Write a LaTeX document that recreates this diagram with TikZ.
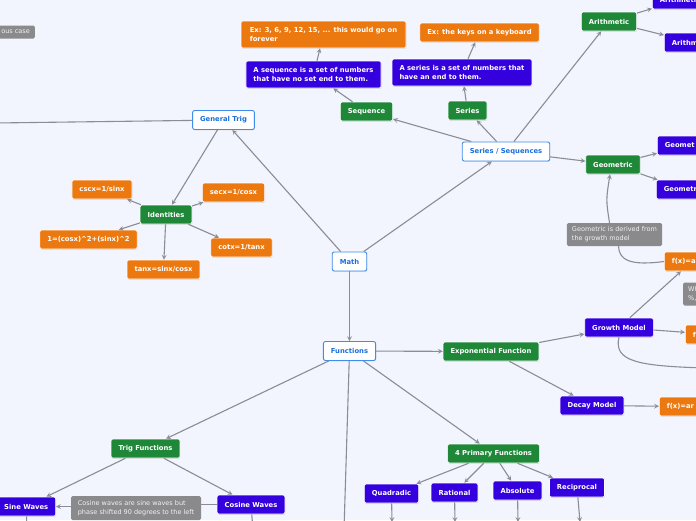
\documentclass[tikz,border=0pt]{standalone}
\usepackage{fontspec}
\setmainfont{DejaVu Sans}
\usetikzlibrary{shapes.geometric, arrows, calc, positioning, shadows}
\definecolor{mapbg}{RGB}{242,245,254}
\definecolor{rootblue}{RGB}{62,140,235}
\definecolor{roottext}{RGB}{25,110,220}
\definecolor{topicgreen}{RGB}{30,136,56}
\definecolor{subblue}{RGB}{52,0,222}
\definecolor{leaforange}{RGB}{236,120,16}
\definecolor{notegray}{RGB}{138,138,140}
\definecolor{linkgray}{RGB}{138,140,150}
\tikzstyle{box} = [rectangle, rounded corners=2pt, inner xsep=7.5pt, inner ysep=0pt, minimum height=19pt, align=left, font=\bfseries\fontsize{6.8}{8.8}\selectfont, drop shadow={shadow xshift=0.5pt, shadow yshift=-0.9pt, opacity=0.22}]
\tikzstyle{root} = [box, fill=white, draw=rootblue, line width=0.9pt, text=roottext]
\tikzstyle{topic} = [box, fill=topicgreen, draw=white, line width=0.6pt, text=white]
\tikzstyle{sub} = [box, fill=subblue, draw=white, line width=0.6pt, text=white]
\tikzstyle{leaf} = [box, fill=leaforange, draw=white, line width=0.6pt, text=white]
\tikzstyle{note} = [rectangle, rounded corners=1.5pt, fill=notegray, text=white!90!gray, inner xsep=5pt, inner ysep=2pt, minimum height=23pt, align=left, font=\fontsize{6.5}{8.8}\selectfont]
\tikzstyle{cutright} = [anchor=west, text width=45pt]
\tikzstyle{arrow} = [linkgray, line width=1.1pt, ->, >=stealth]
\tikzstyle{link} = [linkgray, line width=1.1pt]

\begin{document}
\begin{tikzpicture}[x=1pt, y=-1pt]
		\useasboundingbox (0,0) rectangle (696,520);
		\fill [mapbg] (0,0) rectangle (696,520);
		\clip (0,0) rectangle (696,520);

		\node (Math) [root] at (349.5,261.5) {Math};
		\node (GeneralTrig) [root] at (223.5,120) {General Trig};
		\node (SeriesSeq) [root] at (506,151.5) {Series / Sequences};
		\node (Functions) [root] at (349.5,351) {Functions};

		\node (Sequence) [topic] at (366.5,111.5) {Sequence};
		\node (SeqDef) [sub, minimum height=27pt] at (313.5,74.5) {A sequence is a set of numbers\\that have no set end to them.};
		\node (SeqEx) [leaf, minimum height=27pt, minimum width=165pt] at (323.5,34.5) {Ex: 3, 6, 9, 12, 15, ... this would go on\\forever};
		\node (Series) [topic] at (467.5,110.5) {Series};
		\node (SerDef) [sub, minimum height=27pt] at (462,72.5) {A series is a set of numbers that\\have an end to them.};
		\node (SerEx) [leaf] at (479.5,32.5) {Ex: the keys on a keyboard};

		\node (Arithmetic) [topic] at (609,21.5) {Arithmetic};
		\node (ArithA) [sub, cutright] at (652,-0.5) {Arithmetic};
		\node (ArithB) [sub, cutright] at (664,42.5) {Arithm};
		\node (Geometric) [topic] at (613,164.5) {Geometric};
		\node (GeomA) [sub, cutright] at (657,145.5) {Geomet};
		\node (GeomB) [sub, cutright] at (656,189.5) {Geometr};
		\node (GeomNote) [note, minimum width=95pt] at (614.5,234.5) {Geometric is derived from\\the growth model};
		\node (GrowthF) [leaf, cutright] at (664,261.5) {f(x)=a};
		\node (WhNote) [note, anchor=west, text width=30pt] at (683,294) {Wh\\\%,};

		\node (ExpFunc) [topic] at (491,351.5) {Exponential Function};
		\node (GrowthModel) [sub] at (619,327.5) {Growth Model};
		\node (GrowthF2) [leaf, cutright] at (685,334.5) {f};
		\node (DecayModel) [sub] at (592,405.5) {Decay Model};
		\node (DecayF) [leaf, cutright] at (659,406.5) {f(x)=ar};

		\node (Primary) [topic] at (493.5,453.5) {4 Primary Functions};
		\node (Quadradic) [sub] at (391.5,493.5) {Quadradic};
		\node (Rational) [sub] at (454.5,492.5) {Rational};
		\node (Absolute) [sub] at (517.5,490.5) {Absolute};
		\node (Reciprocal) [sub] at (577,487.5) {Reciprocal};

		\node (TrigFunc) [topic] at (145.5,448.5) {Trig Functions};
		\node (SineWaves) [sub, anchor=east] at (56,506.5) {Sine Waves};
		\node (CosineWaves) [sub] at (251,504.5) {Cosine Waves};
		\node (CosNote) [note, minimum width=130pt, minimum height=24pt] at (136,508) {Cosine waves are sine waves but\\phase shifted 90 degrees to the left};

		\node (Identities) [topic] at (166,214.5) {Identities};
		\node (Cscx) [leaf] at (102,189.5) {cscx=1/sinx};
		\node (Secx) [leaf] at (233.5,192.5) {secx=1/cosx};
		\node (Pyth) [leaf] at (88.5,239.5) {1=(cosx)\^{}2+(sinx)\^{}2};
		\node (Cotx) [leaf] at (241.5,247.5) {cotx=1/tanx};
		\node (Tanx) [leaf] at (163.5,269.5) {tanx=sinx/cosx};

		\node (OusNote) [note, anchor=east, minimum height=13pt, inner ysep=1pt] at (35,32) {ous case};

		\coordinate (TrigOff) at (-5,123);
		\coordinate (FuncOff) at (344,530);
		\coordinate (SineOff) at (27,530);
		\coordinate (CosOff) at (253,530);
		\coordinate (QuadOff) at (392,522);
		\coordinate (RatOff) at (455,522);
		\coordinate (AbsOff) at (518,522);
		\coordinate (RecOff) at (580,522);
		\coordinate (GrowthOff) at (705,368);

		\draw [arrow] (Math) -- (GeneralTrig);
		\draw [arrow] (Math) -- (SeriesSeq);
		\draw [arrow] (Math) -- (Functions);

		\draw [link] (GeneralTrig) -- (TrigOff);
		\draw [arrow] (GeneralTrig) -- (Identities);
		\draw [arrow] (Identities) -- (Cscx);
		\draw [arrow] (Identities) -- (Secx);
		\draw [arrow] (Identities) -- (Pyth);
		\draw [arrow] (Identities) -- (Cotx);
		\draw [arrow] (Identities) -- (Tanx);

		\draw [arrow] (SeriesSeq) -- (Sequence);
		\draw [arrow] (SeriesSeq) -- (Series);
		\draw [arrow] (SeriesSeq) -- (Arithmetic);
		\draw [arrow] (SeriesSeq) -- (Geometric);
		\draw [arrow] (Sequence) -- (SeqDef);
		\draw [arrow] (SeqDef) -- (SeqEx);
		\draw [arrow] (Series) -- (SerDef);
		\draw [arrow] (SerDef) -- (SerEx);
		\draw [arrow] (Arithmetic) -- (ArithA);
		\draw [arrow] (Arithmetic) -- (ArithB);
		\draw [arrow] (Geometric) -- (GeomA);
		\draw [arrow] (Geometric) -- (GeomB);
		\draw [link] (GrowthF.west) .. controls (630,266) and (619,260) .. ($(GeomNote.south)+(4,0)$);
		\draw [arrow] ($(GeomNote.north)+(-5,0)$) .. controls (606,200) .. ($(Geometric.south)+(-3,0)$);

		\draw [arrow] (Functions) -- (ExpFunc);
		\draw [arrow] (Functions) -- (Primary);
		\draw [arrow] (Functions) -- (TrigFunc);
		\draw [link] (Functions) -- (FuncOff);
		\draw [arrow] (ExpFunc) -- (GrowthModel);
		\draw [arrow] (ExpFunc) -- (DecayModel);
		\draw [arrow] (GrowthModel) -- ($(GrowthF.south west)+(17,0)$);
		\draw [arrow] (GrowthModel) -- (GrowthF2);
		\draw [link] (GrowthModel.south) .. controls (613,362) and (640,366) .. (GrowthOff);
		\draw [arrow] (DecayModel) -- (DecayF);

		\draw [arrow] (Primary) -- (Quadradic);
		\draw [arrow] (Primary) -- (Rational);
		\draw [arrow] (Primary) -- (Absolute);
		\draw [arrow] (Primary) -- (Reciprocal);
		\draw [arrow] (Quadradic) -- (QuadOff);
		\draw [arrow] (Rational) -- (RatOff);
		\draw [arrow] (Absolute) -- (AbsOff);
		\draw [arrow] (Reciprocal) -- (RecOff);

		\draw [arrow] (TrigFunc) -- (SineWaves);
		\draw [arrow] (TrigFunc) -- (CosineWaves);
		\draw [link] (CosineWaves.west) -- (CosNote.east |- CosineWaves.west);
		\draw [arrow] (CosNote.west |- SineWaves.east) -- (SineWaves.east);
		\draw [link] (SineWaves) -- (SineOff);
		\draw [link] (CosineWaves) -- (CosOff);
	\end{tikzpicture}
\end{document}
